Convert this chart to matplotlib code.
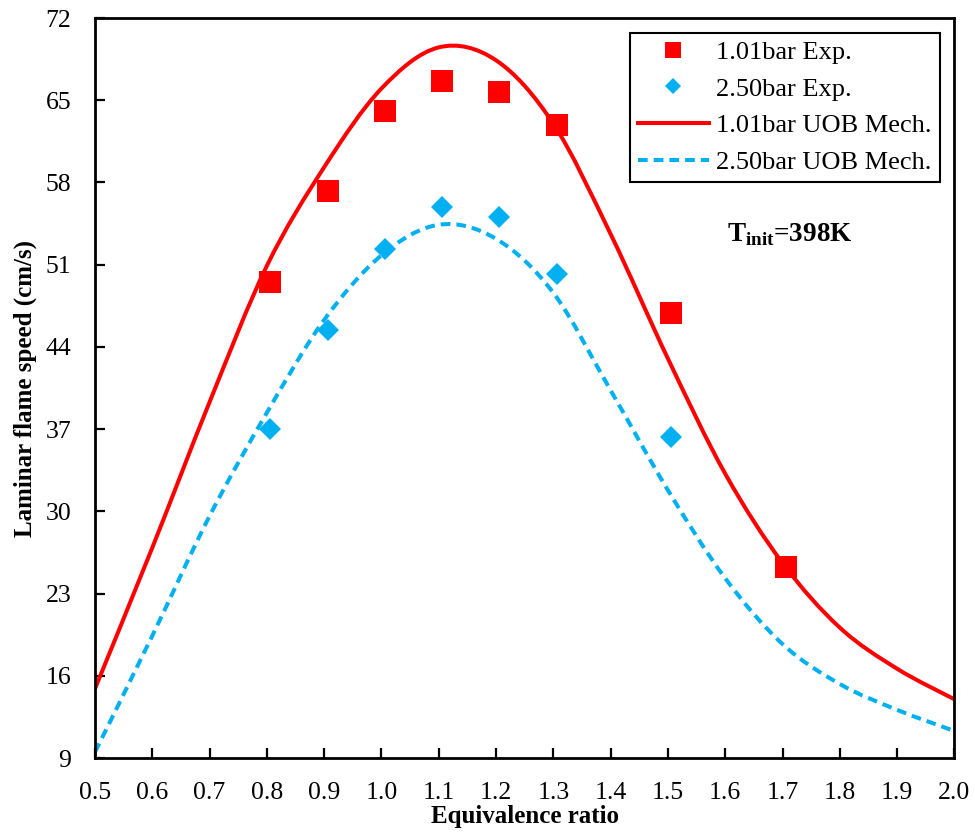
import matplotlib
matplotlib.use("Agg")
import matplotlib.pyplot as plt
from matplotlib.path import Path
from matplotlib.patches import PathPatch
from matplotlib.lines import Line2D

plt.rcParams["font.family"] = ["Liberation Serif", "DejaVu Serif"]
plt.rcParams["mathtext.fontset"] = "custom"
plt.rcParams["mathtext.rm"] = "Liberation Serif"
plt.rcParams["mathtext.bf"] = "Liberation Serif:bold"

# Measured laminar flame speeds (cm/s)
exp_phi = [0.806, 0.906, 1.006, 1.106, 1.206, 1.306, 1.506, 1.706]
exp_101bar = [49.5, 57.3, 64.1, 66.6, 65.7, 62.9, 46.9, 25.3]
exp_phi_250 = [0.806, 0.906, 1.006, 1.106, 1.206, 1.306, 1.506]
exp_250bar = [37.0, 45.4, 52.3, 55.9, 55.1, 50.2, 36.3]

# UOB mechanism predictions
mech_phi = [0.50, 0.60, 0.70, 0.80, 0.90, 1.00, 1.10, 1.20, 1.30, 1.40,
            1.50, 1.60, 1.70, 1.80, 1.90, 2.00]
mech_101bar = [14.9, 26.9, 39.3, 50.9, 59.3, 66.0, 69.5, 68.4, 63.0, 53.6,
               43.0, 33.2, 25.6, 20.1, 16.6, 14.0]
mech_250bar = [9.5, 19.4, 29.6, 38.4, 46.3, 51.8, 54.4, 53.2, 48.6, 40.3,
               31.8, 24.3, 18.7, 15.3, 13.1, 11.3]

x_ticks = [0.5, 0.6, 0.7, 0.8, 0.9, 1.0, 1.1, 1.2, 1.3, 1.4, 1.5, 1.6, 1.7, 1.8, 1.9, 2.0]
y_ticks = [9, 16, 23, 30, 37, 44, 51, 58, 65, 72]

RED = "#FF0000"
BLUE = "#00B0F0"
DASH = (0, (2.4, 1.5))


def smooth_path(xs, ys):
    """Cubic Bezier path through every point (Catmull-Rom tangents)."""
    pts = list(zip(xs, ys))
    n = len(pts)
    verts = [pts[0]]
    codes = [Path.MOVETO]
    for i in range(n - 1):
        p0 = pts[i - 1] if i > 0 else pts[i]
        p1 = pts[i]
        p2 = pts[i + 1]
        p3 = pts[i + 2] if i + 2 < n else pts[i + 1]
        c1 = (p1[0] + (p2[0] - p0[0]) / 6.0, p1[1] + (p2[1] - p0[1]) / 6.0)
        c2 = (p2[0] - (p3[0] - p1[0]) / 6.0, p2[1] - (p3[1] - p1[1]) / 6.0)
        verts += [c1, c2, p2]
        codes += [Path.CURVE4, Path.CURVE4, Path.CURVE4]
    return Path(verts, codes)


fig = plt.figure(figsize=(9.75, 8.34), dpi=100)
ax = fig.add_axes([0.0974, 0.0911, 0.8815, 0.8873])

ax.add_patch(PathPatch(smooth_path(mech_phi, mech_101bar), fill=False,
                       edgecolor=RED, linewidth=2.9, zorder=2,
                       joinstyle="round", capstyle="butt"))
ax.add_patch(PathPatch(smooth_path(mech_phi, mech_250bar), fill=False,
                       edgecolor=BLUE, linewidth=2.9, linestyle=DASH,
                       zorder=2, capstyle="butt"))

ax.plot(exp_phi, exp_101bar, linestyle="none", marker="s", markersize=16,
        color=RED, markeredgewidth=0, zorder=3)
ax.plot(exp_phi_250, exp_250bar, linestyle="none", marker="D", markersize=11,
        color=BLUE, markeredgewidth=0, zorder=3)

ax.set_xlim(0.5, 2.0)
ax.set_ylim(9, 72)
ax.set_xticks(x_ticks)
ax.set_xticklabels([f"{v:.1f}" for v in x_ticks])
ax.set_yticks(y_ticks)
ax.tick_params(axis="both", direction="in", length=7, width=1.6,
               labelsize=18.5, top=False, right=False, pad=17)
for s in ax.spines.values():
    s.set_linewidth(2)
    s.set_color("black")

ax.set_xlabel("Equivalence ratio", fontsize=18, fontweight="bold", labelpad=1)
ax.set_ylabel("Laminar flame speed (cm/s)", fontsize=18, fontweight="bold", labelpad=6)

handles = [
    Line2D([], [], linestyle="none", marker="s", markersize=12, color=RED,
           markeredgewidth=0),
    Line2D([], [], linestyle="none", marker="D", markersize=8.5, color=BLUE,
           markeredgewidth=0),
    Line2D([], [], color=RED, linewidth=2.9),
    Line2D([], [], color=BLUE, linewidth=2.9, linestyle=DASH),
]
labels = ["1.01bar Exp.", "2.50bar Exp.", "1.01bar UOB Mech.", "2.50bar UOB Mech."]
leg = ax.legend(handles, labels, loc="upper right", fontsize=19, frameon=True,
                fancybox=False, edgecolor="black", framealpha=1,
                handlelength=2.7, handletextpad=0.28, borderpad=0.3,
                labelspacing=0.5, borderaxespad=0.55)
leg.get_frame().set_linewidth(1.5)

ax.text(0.808, 0.707, r"T$_{\mathbf{init}}$=398K", transform=ax.transAxes,
        fontsize=19.5, fontweight="bold", ha="center", va="center")

fig.savefig("out.png", dpi=100)
